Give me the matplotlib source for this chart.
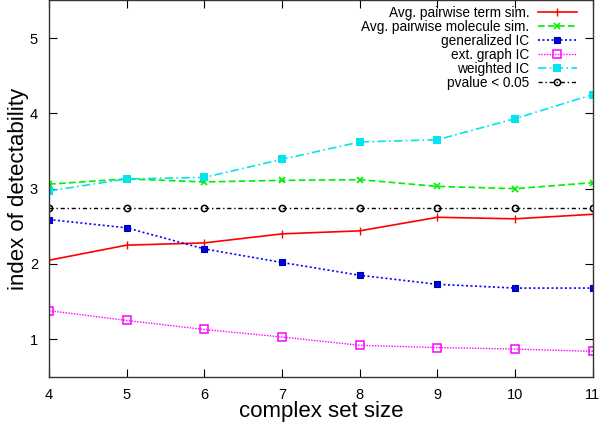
import matplotlib
matplotlib.use("Agg")
import matplotlib.pyplot as plt

plt.rcParams['font.family'] = ['Liberation Sans', 'DejaVu Sans']

x = [4, 5, 6, 7, 8, 9, 10, 11]
term_sim = [2.05, 2.25, 2.28, 2.40, 2.44, 2.62, 2.60, 2.66]
molecule_sim = [3.06, 3.13, 3.09, 3.11, 3.12, 3.03, 3.00, 3.08]
generalized_ic = [2.59, 2.48, 2.20, 2.02, 1.85, 1.73, 1.68, 1.68]
ext_graph_ic = [1.38, 1.25, 1.13, 1.03, 0.92, 0.89, 0.87, 0.84]
weighted_ic = [2.97, 3.13, 3.15, 3.39, 3.62, 3.65, 3.93, 4.25]
pvalue = [2.75] * 8

fig = plt.figure(figsize=(6, 4.24), dpi=100)
ax = fig.add_axes([0.0817, 0.111, 0.9063, 0.888])

ax.plot(x, term_sim, color='#ff0000', lw=1.2, marker='|', ms=6, mew=1.0,
        label='Avg. pairwise term sim.')
ax.plot(x, molecule_sim, color='#00ee00', lw=1.2, ls=(0, (4, 2)), marker='x', ms=5, mew=1.2,
        label='Avg. pairwise molecule sim.')
ax.plot(x, generalized_ic, color='#0000ff', lw=1.2, ls=(0, (1.2, 1.5)), marker='s', ms=4.5, mew=0.8,
        mec='#000090', label='generalized IC')
ax.plot(x, ext_graph_ic, color='#ff00ff', lw=1.0, ls=(0, (1, 1)), marker='s', ms=5.5, mfc='none', mew=1.1,
        label='ext. graph IC')
ax.plot(x, weighted_ic, color='#00e5ee', lw=1.2, ls=(0, (5, 2, 1, 2)), marker='s', ms=5.5, mew=0,
        label='weighted IC')
ax.plot(x, pvalue, color='black', lw=1.0, ls=(0, (3, 2, 1, 2)), marker='o', ms=4.5, mfc='none', mew=1.1,
        label='pvalue < 0.05')

ax.set_xlim(4, 11)
ax.set_ylim(0.5, 5.5)
ax.set_xticks(x)
ax.set_yticks([1, 2, 3, 4, 5])
ax.tick_params(direction='in', top=True, right=True, labelsize=10.5, length=6, pad=8)
for s in ax.spines.values():
    s.set_linewidth(1.0)
    s.set_color('#333333')

ax.set_xlabel('complex set size', fontsize=16)
ax.set_ylabel('index of detectability', fontsize=16)
ax.xaxis.set_label_coords(0.5, -0.064)
ax.yaxis.set_label_coords(-0.037, 0.5)

leg = ax.legend(loc='upper right', bbox_to_anchor=(0.9706, 0.986), markerfirst=False, frameon=False,
                fontsize=9.8, handlelength=2.87, labelspacing=0.0, borderaxespad=0.0,
                handletextpad=0.6, borderpad=0.0)
for t in leg.get_texts():
    t.set_ha('right')
leg._legend_box.align = 'right'

fig.savefig('out.png', dpi=100)
